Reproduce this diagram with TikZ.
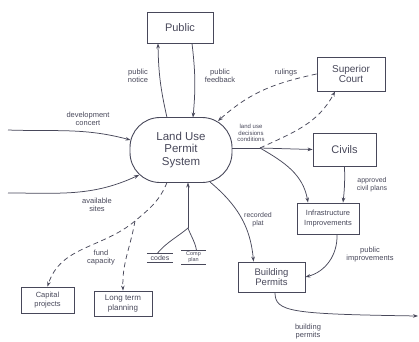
\documentclass[tikz,border=0pt]{standalone}
\usepackage{fontspec}
\setmainfont{Liberation Sans}
\usetikzlibrary{shapes.geometric,arrows.meta,calc}
\definecolor{ink}{RGB}{72,72,90}
\begin{document}
\begin{tikzpicture}[x=1pt,y=-1pt,
  every node/.style={text=ink},
  box/.style={draw=ink, line width=0.9pt, align=center, inner sep=1pt},
  arr/.style={draw=ink, line width=0.75pt, -{Stealth[length=5pt,width=3.6pt]}},
  dasharr/.style={arr, dash pattern=on 5pt off 3.5pt},
  plain/.style={draw=ink, line width=0.75pt},
  lbl/.style={font=\fontsize{7.5}{8}\selectfont, align=center, inner sep=0pt},
  store/.style={font=\fontsize{7}{7}\selectfont, align=center, inner sep=1.5pt}
]
\useasboundingbox (0,0) rectangle (419,341);

% nodes
\node[box, minimum width=66pt, minimum height=31pt, font=\fontsize{11}{12}\selectfont] (pub) at (180,27.5) {Public};
\node[draw=ink, line width=0.9pt, rounded corners=30pt, minimum width=102pt, minimum height=65pt, inner sep=0pt, align=center, font=\fontsize{11.5}{12.5}\selectfont] (sys) at (181,150) {Land Use\\Permit\\System};
\node[box, minimum width=68pt, minimum height=34pt, font=\fontsize{10}{10.5}\selectfont] (sup) at (351,74) {Superior\\Court};
\node[box, minimum width=63pt, minimum height=33pt, font=\fontsize{11}{12}\selectfont] (civ) at (344.5,149.5) {Civils};
\node[box, minimum width=62pt, minimum height=31pt, font=\fontsize{7.5}{9.5}\selectfont] (inf) at (328,218.5) {Infrastructure\\Improvements};
\node[box, minimum width=67pt, minimum height=30pt, font=\fontsize{9.5}{10.5}\selectfont] (bp) at (271.5,277) {Building\\Permits};
\node[box, minimum width=53pt, minimum height=26pt, font=\fontsize{7.5}{8.5}\selectfont] (cap) at (47.5,300) {Capital\\projects};
\node[box, minimum width=58pt, minimum height=25pt, font=\fontsize{8}{9.5}\selectfont] (ltp) at (123,303.5) {Long term\\planning};
\node[store, minimum width=26pt] (codes) at (160,258) {codes};
\node[store, minimum width=24pt, font=\fontsize{5.5}{6}\selectfont] (comp) at (193.5,257.5) {Comp\\plan};
\draw[plain] (codes.north west) -- (codes.north east);
\draw[plain] (codes.south west) -- (codes.south east);
\draw[plain] (comp.north west) -- (comp.north east);
\draw[plain] (comp.south west) -- (comp.south east);

% free ends and forks
\coordinate (dc) at (8,130);
\coordinate (as) at (8,193);
\coordinate (lu) at (260,148);
\coordinate (fk) at (135,221);
\coordinate (cf) at (188,228);
\coordinate (bpo) at (418,316);

% public
\draw[arr] ($(sys.center)+(-14,-32.5)$) to[bend left=6] ($(pub.south)+(-22,0)$);
\draw[arr] ($(pub.south)+(12,0)$) to[bend left=6] ($(sys.center)+(12,-32.5)$);
\node[lbl] (lpn) at (138,76) {public\\notice};
\node[lbl] (lpf) at (220,76) {public\\feedback};

% inputs from left
\draw[arr] (dc) to[out=-2,in=165] ($(sys.center)+(-50.5,-10)$);
\node[lbl] (ldc) at (88,119) {development\\concert};
\draw[arr] (as) to[out=0,in=205] ($(sys.center)+(-42,25)$);
\node[lbl] (las) at (97,205) {available\\sites};

% rulings
\draw[dasharr] (sup.west) to[out=192,in=42] ($(sys.center)+(37,-29)$);
\node[lbl] (lru) at (286,73) {rulings};

% land use decisions
\draw[plain] ($(sys.center)+(51,-2)$) -- (lu);
\draw[arr] (lu) -- (civ.west);
\draw[dasharr] (lu) to[out=25,in=-118] ($(sup.south)+(-16,0)$);
\draw[arr] (lu) to[out=-30,in=100] ($(inf.north)+(-20,0)$);
\node[lbl, font=\fontsize{6}{6.5}\selectfont] (llu) at (251,133) {land use\\decisions\\conditions};

% civils to infrastructure
\draw[arr] (civ.south) to[bend left=4] ($(inf.north)+(15,0)$);
\node[lbl, font=\fontsize{7}{8}\selectfont] (lac) at (372,185) {approved\\civil plans};

% infrastructure to building permits
\draw[arr] ($(inf.south)+(9,0)$) to[out=-88,in=15] (bp.east);
\node[lbl] (lpi) at (370,255) {public\\improvements};

% recorded plat
\draw[arr] ($(sys.center)+(29,32)$) to[out=-40,in=95] ($(bp.north)+(-18,0)$);
\node[lbl, font=\fontsize{7}{8}\selectfont] (lrp) at (258,220) {recorded\\plat};

% building permits out
\draw[arr] ($(bp.south)+(3.5,0)$) .. controls (275,312) and (290,314) .. (bpo);
\node[lbl] (lbo) at (308,332) {building\\permits};

% fund capacity
\draw[dasharr] ($(sys.center)+(-14,32.5)$) to[out=-112,in=40] (fk) to[out=220,in=72] (cap.north);
\draw[dasharr] (fk) to[out=-100,in=92] (ltp.north);
\node[lbl] (lfc) at (101,258) {fund\\capacity};

% codes / comp plan
\draw[arr] (cf) -- ($(sys.center)+(7,32.5)$);
\draw[plain] (cf) to[out=-140,in=50] ($(codes.north)+(-3,0)$);
\draw[plain] (cf) to[out=-70,in=100] ($(comp.north)+(3,0)$);
\end{tikzpicture}
\end{document}
